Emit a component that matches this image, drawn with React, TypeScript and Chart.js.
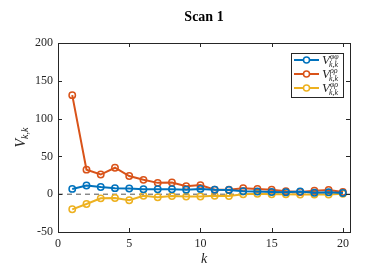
import { useEffect, useRef } from 'react';
import { Chart, registerables } from 'chart.js';

Chart.register(...registerables);

const kValues = [1, 2, 3, 4, 5, 6, 7, 8, 9, 10, 11, 12, 13, 14, 15, 16, 17, 18, 19, 20];
const vPhiPhi = [7, 11.5, 9.5, 8, 7.5, 6.5, 6.5, 6.5, 6, 7, 6, 5.5, 4, 3.5, 3, 2.5, 3.5, 2, 2.5, 1.5];
const vRhoRho = [131, 32.5, 26, 35, 24, 19, 15, 15.5, 10.5, 12, 6, 6, 8, 7, 6, 4, 3, 4.5, 5.5, 3];
const vPhiRho = [-20, -13, -5.5, -5, -8, -2, -4, -2.5, -3, -3, -2, -2.5, 0, 0.5, 0, 0, -0.5, -0.5, -0.5, 0.5];
const seriesSup = ['φφ', 'ρρ', 'φρ'];
const seriesColors = ['#0072BD', '#D95319', '#EDB120'];
const titleText = 'Scan 1';
const xLabel = 'k';

const SERIF = "'Liberation Serif', 'Times New Roman', serif";
const AXIS = '#262626';

const decorPlugin = {
  id: 'decor',
  beforeDatasetsDraw(chart: any) {
    const { ctx, chartArea, scales } = chart;
    const y0 = scales.y.getPixelForValue(0);
    ctx.save();
    ctx.strokeStyle = '#555555';
    ctx.lineWidth = 1;
    ctx.setLineDash([5, 4]);
    ctx.beginPath();
    ctx.moveTo(chartArea.left, y0);
    ctx.lineTo(chartArea.right, y0);
    ctx.stroke();
    ctx.restore();
  },
  afterDraw(chart: any) {
    const { ctx, chartArea, scales } = chart;
    const { left, right, top, bottom } = chartArea;
    ctx.save();
    ctx.strokeStyle = AXIS;
    ctx.lineWidth = 1;
    ctx.strokeRect(Math.round(left) + 0.5, Math.round(top) + 0.5, Math.round(right - left), Math.round(bottom - top));
    const tl = 4;
    ctx.beginPath();
    scales.x.ticks.forEach((t: any) => {
      const x = Math.round(scales.x.getPixelForValue(t.value)) + 0.5;
      ctx.moveTo(x, bottom);
      ctx.lineTo(x, bottom - tl);
      ctx.moveTo(x, top);
      ctx.lineTo(x, top + tl);
    });
    scales.y.ticks.forEach((t: any) => {
      const y = Math.round(scales.y.getPixelForValue(t.value)) + 0.5;
      ctx.moveTo(left, y);
      ctx.lineTo(left + tl, y);
      ctx.moveTo(right, y);
      ctx.lineTo(right - tl, y);
    });
    ctx.stroke();

    // title
    ctx.fillStyle = '#000';
    ctx.font = `bold 14px ${SERIF}`;
    ctx.textAlign = 'center';
    ctx.textBaseline = 'middle';
    ctx.fillText(titleText, (left + right) / 2, 17);

    // x label
    ctx.fillStyle = AXIS;
    ctx.font = `italic 14px ${SERIF}`;
    ctx.fillText(xLabel, (left + right) / 2, 259);

    // y label V_{k,k}
    ctx.save();
    ctx.translate(20, (top + bottom) / 2);
    ctx.rotate(-Math.PI / 2);
    ctx.textAlign = 'left';
    ctx.textBaseline = 'alphabetic';
    ctx.font = `italic 10px ${SERIF}`;
    const sw = ctx.measureText('k,k').width;
    ctx.font = `italic 14px ${SERIF}`;
    const vw = ctx.measureText('V').width;
    const total = vw + sw;
    ctx.fillText('V', -total / 2, 5);
    ctx.font = `italic 10px ${SERIF}`;
    ctx.fillText('k,k', -total / 2 + vw, 8);
    ctx.restore();

    // legend
    const lx = 291, ly = 53, lw = 52, lh = 44;
    ctx.fillStyle = '#fff';
    ctx.fillRect(lx, ly, lw, lh);
    ctx.strokeStyle = AXIS;
    ctx.lineWidth = 1;
    ctx.strokeRect(lx + 0.5, ly + 0.5, lw, lh);
    const rows = [60, 74, 88];
    rows.forEach((ry, i) => {
      const c = seriesColors[i];
      ctx.strokeStyle = c;
      ctx.lineWidth = 2;
      ctx.beginPath();
      ctx.moveTo(294, ry);
      ctx.lineTo(319, ry);
      ctx.stroke();
      ctx.fillStyle = '#fff';
      ctx.lineWidth = 1.5;
      ctx.beginPath();
      ctx.arc(306.5, ry, 3, 0, Math.PI * 2);
      ctx.fill();
      ctx.stroke();
      ctx.fillStyle = AXIS;
      ctx.textAlign = 'left';
      ctx.textBaseline = 'alphabetic';
      ctx.font = `italic 13px ${SERIF}`;
      ctx.fillText('V', 322, ry + 4);
      const w = ctx.measureText('V').width;
      ctx.font = `italic 8px ${SERIF}`;
      ctx.fillText(seriesSup[i], 322 + w, ry - 1);
      ctx.fillText('k,k', 322 + w - 1, ry + 7);
    });
    ctx.restore();
  },
};

export default function App() {
  const ref = useRef<HTMLCanvasElement | null>(null);
  useEffect(() => {
    if (!ref.current) return;
    const mk = (data: number[], color: string) => ({
      data: kValues.map((k, i) => ({ x: k, y: data[i] })),
      borderColor: color,
      backgroundColor: '#ffffff',
      borderWidth: 2,
      pointRadius: 3.2,
      pointBorderWidth: 1.5,
      pointBackgroundColor: 'rgba(255,255,255,0)',
      pointBorderColor: color,
      tension: 0,
    });
    const chart = new Chart(ref.current, {
      type: 'line',
      data: {
        datasets: [
          mk(vPhiPhi, seriesColors[0]),
          mk(vRhoRho, seriesColors[1]),
          mk(vPhiRho, seriesColors[2]),
        ] as any,
      },
      options: {
        animation: false,
        responsive: false,
        maintainAspectRatio: false,
        layout: { padding: { left: 0, right: 24, top: 43, bottom: 0 } },
        plugins: { legend: { display: false }, title: { display: false }, tooltip: { enabled: false } },
        scales: {
          x: {
            type: 'linear',
            min: 0,
            max: 20.5,
            grid: { display: false, drawTicks: false, tickLength: 0 },
            border: { display: false },
            ticks: { stepSize: 5, includeBounds: false, color: AXIS, font: { family: SERIF, size: 12 }, padding: 5, maxRotation: 0 },
            afterFit: (s: any) => { s.height = 48; },
          },
          y: {
            min: -50,
            max: 200,
            grid: { display: false, drawTicks: false, tickLength: 0 },
            border: { display: false },
            ticks: { stepSize: 50, color: AXIS, font: { family: SERIF, size: 12 }, padding: 5 },
            afterFit: (s: any) => { s.width = 58; },
          },
        },
      } as any,
      plugins: [decorPlugin],
    });
    return () => chart.destroy();
  }, []);
  return (
    <div style={{ position: 'fixed', left: 0, top: 0, width: 374, height: 280, background: '#fff' }}>
      <canvas ref={ref} width={374} height={280} style={{ width: 374, height: 280 }} />
    </div>
  );
}
